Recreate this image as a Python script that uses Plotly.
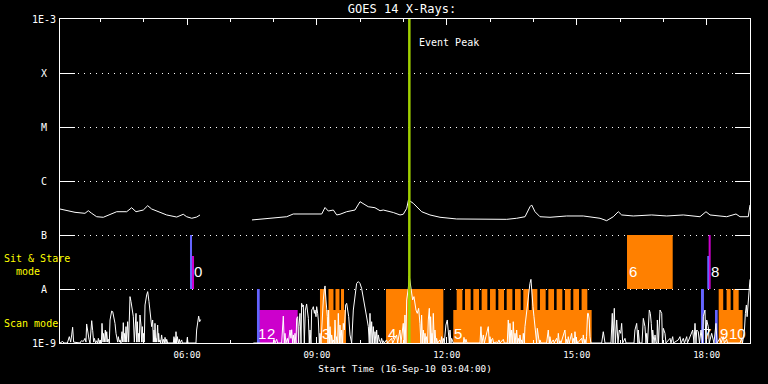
import math
import plotly.graph_objects as go

# ---------------- time base ----------------
START_CLOCK = "03:04"          # Start Time (16-Sep-10 03:04:00)
END_CLOCK = "19:00"
tick_labels = ["06:00", "09:00", "12:00", "15:00", "18:00"]
event_peak_clock = "11:08"


def clock_to_min(s):
    h, m = s.split(":")
    return int(h) * 60 + int(m)


def offset(s):
    return clock_to_min(s) - clock_to_min(START_CLOCK)


# ---------------- flux levels ----------------
y_tick_values = [1e-9, 1e-8, 1e-7, 1e-6, 1e-5, 1e-4, 1e-3]
y_tick_text = ["1E-9", "A", "B", "C", "M", "X", "1E-3"]

# ---------------- GOES 14 long channel (minutes after start, W/m^2) ----------------
goes_t1 = [0, 9.3, 20.8, 34.6, 39.2, 43.9, 50.8, 60.0, 69.3, 78.6, 92.4, 99.3, 105.3, 115.4,
           121.5, 127.0, 138.6, 147.8, 161.7, 170.8, 175.5, 182.5, 189.4, 194.0]
goes_f1 = [3.03e-7, 2.82e-7, 2.63e-7, 2.52e-7, 2.82e-7, 2.52e-7, 2.18e-7, 2.13e-7, 2.42e-7,
           2.70e-7, 2.70e-7, 3.2e-7, 2.70e-7, 2.9e-7, 3.49e-7, 3.03e-7, 2.63e-7, 2.35e-7,
           2.15e-7, 2.42e-7, 2.18e-7, 2.04e-7, 2.15e-7, 2.35e-7]
goes_t2 = [266.0, 286.4, 295.5, 314.1, 323.2, 341.8, 355.7, 362.6, 367.2, 371.7, 378.7, 383.4,
           387.9, 397.2, 408.7, 415.7, 419.8, 427.1, 436.4, 443.4, 447.9, 461.8, 471.1, 475.6,
           480.4, 482.8, 489.5, 501.1, 512.6, 526.5, 549.6, 572.6, 595.8, 618.9, 632.7, 644.3,
           651.2, 653.5, 658.1, 665.0, 678.9, 702.0, 725.0, 748.2, 757.4, 766.6, 773.5, 778.2,
           794.3, 819.8, 840.6, 863.6, 886.7, 895.0, 900.6, 923.7, 936.6, 942.1, 953.6, 956.0]
goes_f2 = [1.90e-7, 2.04e-7, 2.04e-7, 2.18e-7, 2.45e-7, 2.42e-7, 2.42e-7, 2.45e-7, 3.23e-7,
           2.78e-7, 2.9e-7, 2.35e-7, 2.42e-7, 2.70e-7, 2.9e-7, 4.14e-7, 3.83e-7, 3.34e-7,
           3.2e-7, 2.82e-7, 2.9e-7, 2.61e-7, 2.35e-7, 2.42e-7, 3.12e-7, 4.45e-7, 3.86e-7,
           2.70e-7, 2.35e-7, 2.13e-7, 1.98e-7, 1.95e-7, 1.95e-7, 1.95e-7, 2.04e-7, 2.18e-7,
           3.34e-7, 3.6e-7, 2.70e-7, 2.18e-7, 2.13e-7, 2.25e-7, 2.25e-7, 2.04e-7, 1.84e-7,
           2.18e-7, 2.70e-7, 2.35e-7, 2.25e-7, 2.35e-7, 2.25e-7, 2.35e-7, 2.18e-7, 2.70e-7,
           2.35e-7, 2.18e-7, 2.45e-7, 2.18e-7, 2.18e-7, 3.6e-7]

# ---------------- lower trace (minutes after start, units of 1E-9) ----------------
low_t1 = [0, 3.7, 5.5, 10.2, 12.9, 14.8, 16.2, 17.5, 18.9, 27.7,
          29.6, 32.3, 34.6, 36.0, 36.9, 38.3, 40.2, 41.6, 43.9, 45.3,
          46.6, 47.6, 49.4, 50.8, 52.2, 53.1, 54.5, 55.4, 57.3, 58.2,
          59.6, 60.0, 61.4, 62.8, 63.7, 64.7, 66.0, 67.0, 68.3, 69.3,
          71.6, 73.0, 74.8, 76.2, 77.6, 78.5, 79.9, 80.8, 82.2, 83.1,
          84.5, 85.9, 86.8, 87.7, 88.7, 89.1, 90.5, 91.4, 92.4, 93.7,
          95.1, 97.0, 98.4, 100.2, 101.6, 103.0, 103.9, 105.3, 106.2, 107.1,
          108.1, 109.0, 109.9, 110.8, 112.2, 113.1, 114.1, 115.0, 115.5, 116.8,
          117.8, 120.1, 121.5, 123.3, 124.7, 125.6, 127.0, 128.4, 129.3, 130.2,
          131.2, 131.6, 132.5, 133.0, 133.9, 135.3, 136.2, 136.7, 137.6, 138.5,
          139.5, 140.8, 142.2, 143.2, 144.5, 145.5, 146.9, 147.8, 149.2, 157.0,
          157.9, 158.9, 159.3, 160.2, 160.7, 161.6, 162.6, 163.9, 165.3, 166.2,
          168.6, 169.5, 175.5, 176.4, 177.3, 188.4, 189.3, 190.7, 192.1, 193.5,
          194.9]
low_v1 = [1.0, 1.07, 1.0, 1.0, 1.31, 1.04, 1.41, 1.96, 1.04, 1.0,
          1.10, 1.07, 1.22, 1.04, 2.25, 1.51, 1.17, 1.0, 2.59, 1.69,
          1.04, 1.22, 1.0, 1.10, 1.0, 1.22, 1.0, 1.14, 1.0, 2.31,
          1.04, 1.51, 1.04, 1.74, 1.04, 1.62, 1.04, 1.17, 1.0, 2.67,
          3.91, 3.81, 3.07, 2.31, 1.51, 1.27, 1.04, 1.31, 1.04, 1.14,
          1.0, 1.62, 1.04, 2.38, 1.04, 1.51, 1.04, 2.01, 1.04, 2.48,
          1.04, 7.22, 5.83, 4.39, 3.07, 1.04, 2.01, 3.54, 1.04, 2.48,
          1.04, 1.51, 1.04, 3.30, 2.15, 1.04, 2.01, 1.04, 1.51, 1.04,
          5.06, 7.76, 8.94, 5.83, 4.08, 3.07, 2.01, 2.67, 1.04, 1.74,
          1.04, 2.31, 1.04, 1.22, 1.04, 2.15, 1.04, 1.51, 1.04, 1.14,
          1.0, 1.41, 1.0, 1.17, 1.0, 1.27, 1.0, 1.17, 1.0, 1.0,
          1.31, 1.0, 1.22, 1.0, 1.62, 1.0, 1.31, 1.0, 1.17, 1.0,
          1.14, 1.0, 1.0, 1.27, 1.0, 1.0, 1.74, 2.67, 3.15, 2.48,
          2.72]
low_t2 = [267.9, 295.6, 296.5, 297.9, 300.2, 301.6, 307.1, 309.4, 310.8, 311.7,
          313.1, 315.0, 316.3, 318.7, 320.0, 321.0, 322.4, 323.3, 324.7, 325.6,
          327.0, 327.9, 329.3, 330.7, 331.1, 332.5, 333.9, 334.8, 336.2, 337.1,
          338.5, 339.9, 341.7, 343.1, 344.1, 345.4, 346.4, 347.7, 348.7, 350.1,
          351.0, 352.4, 353.3, 354.7, 355.6, 357.0, 357.9, 359.3, 360.2, 361.6,
          362.5, 363.9, 364.8, 366.2, 367.2, 368.5, 370.4, 371.3, 372.2, 373.2,
          374.1, 375.5, 376.4, 377.8, 378.7, 380.1, 381.0, 382.4, 383.3, 384.7,
          385.6, 387.0, 387.9, 389.3, 390.2, 391.6, 392.5, 393.9, 395.8, 397.2,
          398.6, 400.0,
          401.8, 404.1, 406.4, 408.7, 411.0, 413.3, 415.6, 417.9, 420.2, 422.5,
          424.8, 427.2, 428.5, 429.5, 430.8, 431.8, 433.2, 434.1, 435.5, 436.4,
          437.8, 438.7, 440.1, 441.0, 442.4, 444.2, 445.6, 447.0, 447.9, 449.3,
          452.5, 453.9, 459.5, 460.9, 466.4, 467.8, 471.0, 472.4, 475.6, 477.0,
          477.9, 479.3, 480.3, 482.6, 483.9, 485.3, 486.7, 488.6, 490.4, 491.8,
          493.2, 495.0, 496.9, 498.7, 500.1, 501.0, 502.4, 503.4, 504.7, 505.7,
          507.0, 507.9, 509.3, 510.3, 511.7, 513.0, 513.5, 514.9, 515.4, 516.3,
          517.2, 518.6, 519.5, 520.9, 521.8, 523.2, 526.4, 527.8, 528.7, 530.1,
          531.1, 532.4, 534.7, 536.6, 538.0, 539.4, 540.3, 541.7, 542.6, 544.0,
          544.9, 558.8, 559.7, 561.1, 562.5, 563.9, 581.9, 583.2, 584.6, 586.5,
          587.9, 593.4, 594.8, 595.7, 597.1, 598.0, 599.4, 600.8, 605.0, 606.3,
          608.2, 609.6, 614.2, 615.6, 619.7, 621.1, 622.5, 623.4, 624.8, 625.7,
          627.1, 628.0, 629.4, 630.4, 631.7, 632.7, 634.0, 635.0, 636.4, 637.3,
          638.7, 639.6, 641.0, 641.9, 643.3, 644.2, 645.6, 647.4, 648.8, 650.2,
          651.1, 652.5, 653.9, 655.3, 656.7, 658.1, 659.4, 660.4, 661.3, 662.7,
          664.1, 665.0, 666.4, 674.2, 675.1, 676.5, 677.9, 678.8, 680.2, 683.5,
          684.8, 688.1, 689.5, 690.4, 691.8, 692.7, 694.1, 699.6, 701.0, 701.9,
          703.3, 704.2, 705.6, 708.9, 710.2, 711.2, 712.6, 713.5, 714.9, 715.8,
          717.2, 722.7, 724.1, 725.0, 726.4, 727.3, 728.7, 729.6, 731.0, 732.0,
          733.3, 734.2, 735.6,
          750.5, 752.7, 755.1, 763.4, 765.2, 766.2, 768.0, 769.4, 771.3, 773.1,
          774.9, 776.8, 778.2, 779.6, 782.8, 784.2, 795.3, 796.6, 799.0, 800.8,
          801.2, 802.9, 806.4, 808.2, 810.5, 811.9, 812.9, 814.0, 816.5, 817.9,
          819.2, 820.6, 821.2, 823.0, 824.4, 825.8, 827.1, 827.6, 829.2, 831.3,
          833.7, 834.7, 835.9, 838.2, 839.6, 845.2, 846.5, 848.9, 850.0, 856.6,
          859.0, 860.4, 863.6, 865.2, 868.3, 869.4, 876.6, 878.4, 879.8, 881.2,
          882.2, 884.3, 886.0, 888.1, 890.2, 891.3, 893.6, 895.0, 896.0, 898.2,
          899.6, 902.9, 905.1, 906.1, 908.9, 910.3, 914.4, 915.8, 919.0, 920.4,
          923.7, 924.8, 942.1, 944.5, 945.6, 948.3, 949.6, 951.0, 952.0, 954.2,
          955.2, 956.0]
low_v2 = [1.0, 1.0, 1.17, 1.0, 1.17, 1.0, 1.0, 3.15, 1.0, 1.51,
          1.0, 1.22, 1.0, 1.74, 1.22, 1.76, 1.0, 1.41, 1.0, 1.51,
          1.0, 2.86, 3.07, 1.0, 2.01, 3.54, 1.0, 5.43, 4.71, 5.06,
          1.0, 4.08, 5.28, 3.54, 2.86, 1.0, 1.74, 1.0, 4.08, 4.39,
          4.71, 3.54, 4.08, 3.07, 4.71, 3.54, 2.67, 1.0, 1.51, 1.0,
          2.01, 3.54, 6.26, 9.60, 11.4, 6.26, 3.07, 1.0, 4.08, 1.0,
          2.01, 1.0, 1.41, 1.0, 1.14, 1.0, 2.67, 1.0, 1.31, 1.0,
          3.54, 1.0, 2.15, 1.0, 1.74, 1.0, 2.31, 1.74, 5.06, 5.43,
          4.08, 3.07,
          1.41, 1.0, 4.08, 8.33, 12.7, 13.7, 12.7, 10.3, 6.73, 4.08,
          3.07, 2.01, 1.0, 3.54, 1.0, 2.48, 1.0, 2.01, 1.0, 1.62,
          1.0, 1.74, 1.0, 1.41, 1.14, 1.0, 1.22, 1.0, 1.10, 1.0,
          1.14, 1.0, 1.22, 1.0, 1.41, 1.0, 1.74, 1.0, 2.31, 1.0,
          3.30, 1.0, 6.26, 10.3, 17.4, 12.7, 9.6, 6.26, 7.22, 4.71,
          4.08, 3.54, 4.39, 2.31, 1.0, 3.30, 1.0, 1.74, 1.0, 1.51,
          1.0, 1.31, 1.0, 2.67, 4.39, 1.0, 3.07, 1.0, 1.51, 1.0,
          3.54, 1.0, 1.74, 1.0, 1.22, 1.0, 1.14, 1.0, 1.31, 1.0,
          1.22, 1.0, 2.15, 2.67, 1.51, 1.0, 1.74, 1.0, 1.22, 1.0,
          1.0, 1.0, 1.27, 1.0, 1.17, 1.0, 1.0, 2.01, 1.0, 1.41,
          1.0, 2.01, 1.0, 1.31, 1.0, 1.17, 1.22, 1.0, 1.05, 1.0,
          1.14, 1.0, 1.17, 1.0, 1.0, 2.67, 1.0, 2.31, 1.0, 1.74,
          1.0, 2.48, 1.0, 1.51, 1.0, 1.74, 1.0, 1.22, 1.0, 1.41,
          1.0, 1.14, 1.0, 1.51, 1.0, 2.01, 3.07, 4.08, 6.26, 9.6,
          12.7, 15.1, 7.22, 4.71, 3.07, 2.01, 1.51, 1.0, 1.87, 1.22,
          1.0, 1.14, 1.0, 1.0, 1.22, 1.74, 1.0, 1.31, 1.0, 1.14,
          1.0, 1.22, 1.0, 1.51, 1.0, 1.10, 1.0, 1.74, 1.0, 1.17,
          1.0, 1.31, 1.0, 1.51, 1.0, 1.22, 1.0, 1.62, 1.0, 1.14,
          1.0, 1.22, 1.0, 1.41, 1.0, 1.17, 1.0, 1.31, 3.54, 3.54,
          2.67, 1.31, 1.0,
          1.0, 1.62, 1.0, 1.0, 3.54, 1.0, 4.39, 1.0, 2.67, 1.0,
          1.74, 1.51, 2.31, 1.0, 1.22, 1.0, 1.0, 1.74, 2.31, 1.0,
          1.74, 1.0, 1.0, 2.86, 2.01, 1.0, 1.51, 1.0, 4.08, 3.54,
          2.31, 1.0, 1.74, 1.0, 1.41, 1.0, 1.0, 2.67, 1.0, 4.08,
          3.54, 1.0, 1.87, 1.51, 1.0, 1.22, 1.0, 1.31, 1.0, 1.14,
          1.31, 1.0, 1.22, 1.0, 1.31, 1.0, 1.74, 1.0, 2.31, 1.0,
          1.74, 1.62, 1.0, 1.74, 1.0, 3.07, 4.08, 1.0, 2.67, 2.01,
          1.0, 1.51, 1.22, 1.0, 2.31, 1.0, 1.22, 1.0, 1.31, 1.0,
          1.17, 1.0, 1.0, 1.22, 1.0, 1.74, 3.54, 5.06, 3.07, 9.58,
          11.8, 15.1]
LOW_UNIT = 1e-9

# ---------------- observation blocks: (start min, end min, bottom flux, top flux) ----------------
orange_blocks = [
    (360.2, 396.2, 1e-9, 4.1e-9), (360.2, 368.5, 1e-9, 1e-8), (372.0, 378.9, 1e-9, 1e-8),
    (381.7, 387.2, 1e-9, 1e-8), (389.3, 393.5, 1e-9, 1e-8),
    (451.7, 531.1, 1e-9, 1e-8),
    (544.9, 736.6, 1e-9, 4.1e-9),
    (785.6, 848.9, 1e-8, 1e-7),
    (912.6, 945.8, 1e-9, 4.1e-9), (912.6, 918.9, 1e-9, 1e-8), (923.6, 929.2, 1e-9, 1e-8),
    (932.8, 940.3, 1e-9, 1e-8),
]
# repeated raster tops of block 5 (start min), each 7.9 min long
block5_raster_starts = [549.6, 561.1, 572.7, 584.2, 595.8, 607.3, 618.9, 630.4,
                        641.9, 653.5, 665.0, 676.6, 688.1, 699.6, 711.2, 722.7]
block5_raster_len = 7.9
magenta_blocks = [
    (182.9, 185.7, 1e-8, 4.1e-8),
    (276.1, 329.3, 1e-9, 4.1e-9),
    (898.7, 901.5, 1e-8, 1e-7),
]
blue_blocks = [
    (180.1, 182.9, 1e-8, 1e-7),
    (272.9, 276.7, 1e-9, 1e-8),
    (888.1, 892.2, 1e-9, 1e-8),
    (896.8, 899.2, 1e-8, 4.1e-8),
    (907.5, 911.2, 1e-9, 4.1e-9),
]

block_labels = ["0", "1", "2", "3", "4", "5", "6", "7", "8", "9", "10"]
block_label_t = [183.8, 273.6, 285.0, 361.1, 452.6, 544.9, 786.9, 889.1, 900.6, 913.0, 925.0]
block_label_mode = ["sit", "scan", "scan", "scan", "scan", "scan", "sit", "scan", "sit", "scan", "scan"]

# ---------------- styles ----------------
ORANGE = "#ff8000"
MAGENTA = "#cc00cc"
BLUE = "#6464ff"
PEAK = "#a0d000"
YELLOW = "#ffff00"
MONO = "DejaVu Sans Mono"

for s in block5_raster_starts:
    orange_blocks.append((s, s + block5_raster_len, 1e-9, 1e-8))


def rect_trace(rects, color):
    xs, ys = [], []
    for t0, t1, lo, hi in rects:
        xs += [t0, t1, t1, t0, t0, None]
        ys += [lo, lo, hi, hi, lo, None]
    return go.Scatter(x=xs, y=ys, mode="lines", fill="toself", fillcolor=color,
                      line=dict(width=0, color=color), hoverinfo="skip", showlegend=False)


fig = go.Figure()
fig.add_trace(rect_trace(orange_blocks, ORANGE))
fig.add_trace(rect_trace(magenta_blocks, MAGENTA))
fig.add_trace(rect_trace(blue_blocks, BLUE))

low_x = list(low_t1) + [None] + list(low_t2)
low_y = [v * LOW_UNIT for v in low_v1] + [None] + [v * LOW_UNIT for v in low_v2]
fig.add_trace(go.Scatter(x=low_x, y=low_y, mode="lines", line=dict(color="white", width=1),
                         connectgaps=False, showlegend=False, hoverinfo="skip"))

goes_x = list(goes_t1) + [None] + list(goes_t2)
goes_y = list(goes_f1) + [None] + list(goes_f2)
fig.add_trace(go.Scatter(x=goes_x, y=goes_y, mode="lines", line=dict(color="white", width=1),
                         connectgaps=False, showlegend=False, hoverinfo="skip"))

peak_x = offset(event_peak_clock)
fig.add_shape(type="line", xref="x", yref="paper", x0=peak_x, x1=peak_x, y0=0, y1=1,
              line=dict(color=PEAK, width=2.5), layer="above")

ann = []
# y-axis class labels, centred left of the axis
for v, txt in zip(y_tick_values, y_tick_text):
    ann.append(dict(x=-0.0232, xref="paper", y=math.log10(v), yref="y", text=txt,
                    showarrow=False, xanchor="center", yanchor="middle",
                    font=dict(family=MONO, size=10, color="#ffffff")))
ann.append(dict(x=-0.0843, xref="paper", y=-7.444, yref="y", text="Sit & Stare", showarrow=False,
                xanchor="left", yanchor="middle", font=dict(family=MONO, size=10, color=YELLOW)))
ann.append(dict(x=-0.0671, xref="paper", y=-7.667, yref="y", text="mode", showarrow=False,
                xanchor="left", yanchor="middle", font=dict(family=MONO, size=10, color=YELLOW)))
ann.append(dict(x=-0.0843, xref="paper", y=-8.648, yref="y", text="Scan mode", showarrow=False,
                xanchor="left", yanchor="middle", font=dict(family=MONO, size=10, color=YELLOW)))
ann.append(dict(x=peak_x, xref="x", xshift=8, y=0.929, yref="paper", text="Event Peak",
                showarrow=False, xanchor="left", yanchor="middle",
                font=dict(family=MONO, size=10, color="white")))
for txt, t, mode in zip(block_labels, block_label_t, block_label_mode):
    ann.append(dict(x=t, xref="x", y=-7.685 if mode == "sit" else -8.815, yref="y", text=txt,
                    showarrow=False, xanchor="left", yanchor="middle", borderpad=0,
                    font=dict(family="Liberation Sans", size=15, color="white")))

x_end = offset(END_CLOCK)
fig.update_layout(
    width=768, height=384,
    paper_bgcolor="black", plot_bgcolor="black",
    margin=dict(l=60, r=18, t=19, b=41, autoexpand=False),
    showlegend=False,
    title=dict(text="GOES 14 X-Rays:", x=0.4957, xref="paper", xanchor="center",
               y=0.9766, yref="container", yanchor="middle",
               font=dict(family=MONO, size=12, color="white")),
    annotations=ann,
    xaxis=dict(range=[0, x_end], showgrid=False, zeroline=False, showline=True,
               linecolor="white", linewidth=1, mirror="allticks", ticks="inside",
               ticklen=6, tickcolor="white", tickwidth=1,
               tickvals=[offset(s) for s in tick_labels], ticktext=tick_labels,
               tickfont=dict(family=MONO, size=9, color="white"), ticklabelstandoff=3,
               minor=dict(tick0=offset("04:00"), dtick=60, ticks="inside", ticklen=3,
                          tickcolor="white", showgrid=False),
               title=dict(text="Start Time (16-Sep-10 03:04:00)", standoff=6,
                          font=dict(family=MONO, size=9.3, color="white")),
               automargin=False),
    yaxis=dict(type="log", range=[-9, -3], showline=True, linecolor="white", linewidth=1,
               mirror="allticks", ticks="inside", ticklen=15, tickcolor="white",
               tickvals=y_tick_values, showticklabels=False,
               showgrid=True, gridcolor="white", gridwidth=1, griddash="1px,5px",
               zeroline=False, automargin=False),
)

fig.write_html("out.html", config={"displayModeBar": False},
               post_script="document.body.style.margin='0';document.body.style.background='black';")
